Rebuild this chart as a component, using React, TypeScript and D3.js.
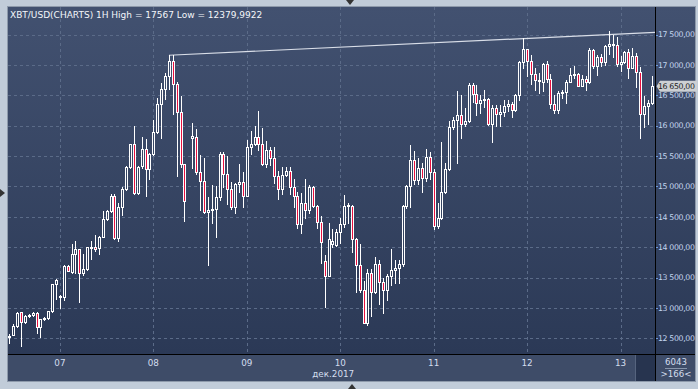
import React, { useEffect, useRef } from "react";
import * as d3 from "d3";

const WIDTH = 698;
const HEIGHT = 389;

const title = "XBT/USD(CHARTS) 1H High = 17567 Low = 12379,9922";

// hourly candles, 06.12 11:00 .. 13.12 08:00 (index 46 is a missing hour)
const opens: (number | null)[] = [
  12530, 12555, 12700, 12925, 12775, 12865, 12875, 12915, 12680, 12810,
  12835, 12945, 13390, 13180, 13185, 13696, 13597, 13888, 13965, 13580,
  13640, 13998, 13998, 13980, 14173, 14459, 14601, 14848, 14146, 14656,
  14953, 15320, 15693, 14887, 15330, 15617, 15282, 15534, 15891, 16352,
  16599, 16818, 17071, 16681, 16220, 15364, null, 15805, 15809, 15243,
  15095, 14585, 14620, 14625, 14821, 15534, 15205, 14953, 14656, 15040,
  15068, 14848, 15644, 15693, 15809, 15693, 15364, 15600, 15463, 15172,
  14953, 15189, 15260, 14996, 14843, 14376, 14733, 14612, 14985, 14678,
  14409, 13773, 13531, 14046, 14036, 14255, 14376, 14678, 14680, 14129,
  13707, 13295, 12757, 13569, 13268, 13718, 13432, 13295, 13531, 13624,
  13663, 13718, 14684, 15013, 15435, 15106, 15298, 15133, 15479, 15232,
  14354, 14475, 14903, 15282, 15984, 16094, 16176, 16022, 16077, 16670,
  16522, 16379, 16423, 16440, 16028, 16286, 16187, 16220, 16324, 16357,
  16259, 16505, 17054, 17257, 17071, 16846, 16752, 16725, 17010, 16763,
  16352, 16259, 16533, 16560, 16725, 16835, 16846, 16659, 16769, 16714,
  17246, 16988, 17137, 17043, 17318, 17330, 17330, 17010, 17054, 17219,
  16955, 17148, 16879, 16187, 16324, 16379,
];
const highs: (number | null)[] = [
  12575, 12735, 12935, 12940, 12880, 12895, 12935, 12925, 12815, 12855,
  12950, 13400, 13470, 13210, 13700, 13700, 14050, 14105, 13970, 13888,
  14010, 14105, 14200, 14180, 14600, 14620, 14870, 14876, 14720, 14985,
  15340, 15700, 15995, 15330, 15810, 15775, 15545, 16094, 16451, 16698,
  16862, 17160, 17160, 16725, 16489, 15370, null, 16040, 15946, 15518,
  15474, 14832, 15024, 15007, 15573, 15567, 15501, 15079, 15051, 15370,
  15238, 15765, 15913, 15995, 16242, 15957, 15754, 15644, 15644, 15260,
  15326, 15326, 15326, 15122, 14914, 14898, 15117, 15024, 15000, 14695,
  14519, 13871, 14404, 14300, 14300, 14475, 14859, 14722, 14690, 14146,
  14047, 13449, 13635, 13635, 13844, 13789, 13487, 13558, 13964, 13789,
  13789, 14695, 15024, 15682, 15589, 15463, 15380, 15611, 15573, 15282,
  14722, 15737, 15380, 16083, 16138, 16571, 16505, 16286, 16697, 16708,
  16670, 16505, 16588, 16451, 16341, 16341, 16341, 16423, 16423, 16385,
  16516, 17065, 17438, 17263, 17164, 16944, 16862, 17038, 17065, 16846,
  16505, 16571, 16582, 16752, 16956, 16988, 16862, 16835, 16824, 17274,
  17263, 17164, 17175, 17329, 17567, 17493, 17466, 17153, 17230, 17263,
  17274, 17192, 16972, 16489, 16418, 16818,
];
const lows: (number | null)[] = [
  12430, 12550, 12690, 12380, 12750, 12850, 12865, 12580, 12515, 12800,
  12825, 12930, 13150, 13000, 13130, 13600, 13580, 13580, 13100, 13540,
  13630, 13800, 13940, 13888, 14160, 14440, 14580, 14140, 14107, 14530,
  14940, 15300, 14880, 14880, 15300, 14848, 15122, 15520, 15880, 15792,
  16434, 16600, 16193, 15172, 15325, 14437, null, 15300, 15205, 14612,
  14557, 13707, 14404, 14173, 14777, 14996, 14711, 14623, 14557, 14914,
  14667, 14840, 15534, 15680, 15600, 15350, 15325, 15353, 15051, 14788,
  14876, 15172, 14876, 14656, 14310, 14228, 14475, 14557, 14667, 14310,
  13734, 13010, 13525, 14000, 14020, 14075, 14338, 14393, 13926, 13268,
  13268, 12746, 12719, 12872, 13251, 13065, 12922, 13131, 13377, 13405,
  13405, 13690, 14640, 14656, 15040, 15040, 14914, 15095, 15122, 14294,
  14310, 14458, 14887, 15270, 15950, 15391, 15803, 16000, 16066, 16396,
  16176, 16204, 16313, 16011, 15737, 16000, 16000, 16165, 16242, 16149,
  16242, 16423, 16944, 16824, 16681, 16588, 16533, 16577, 16714, 16286,
  16204, 16215, 16462, 16379, 16714, 16791, 16654, 16654, 16588, 16697,
  16955, 16835, 16988, 17000, 17175, 17137, 16988, 16901, 17026, 16791,
  16944, 16643, 15792, 15984, 16022, 16357,
];
const closes: (number | null)[] = [
  12545, 12700, 12920, 12775, 12865, 12880, 12920, 12680, 12810, 12835,
  12945, 13390, 13460, 13200, 13696, 13613, 13888, 13965, 13580, 13640,
  13998, 14005, 13965, 14173, 14459, 14601, 14848, 14146, 14656, 14953,
  15326, 15693, 14887, 15326, 15617, 15282, 15534, 15891, 16352, 16599,
  16818, 17071, 16681, 16220, 15364, 14766, null, 15830, 15243, 15095,
  14585, 14620, 14625, 14821, 15534, 15205, 14953, 14656, 15040, 15068,
  14848, 15644, 15693, 15809, 15693, 15364, 15600, 15463, 15172, 14953,
  15189, 15260, 14996, 14843, 14376, 14733, 14612, 14985, 14678, 14409,
  14080, 13531, 14129, 14100, 14255, 14376, 14678, 14690, 14129, 13707,
  13295, 12757, 13569, 13268, 13718, 13432, 13295, 13531, 13624, 13663,
  13718, 14684, 15013, 15435, 15106, 15298, 15133, 15479, 15232, 14354,
  14475, 14903, 15282, 15984, 16094, 16176, 16022, 16077, 16670, 16522,
  16379, 16423, 16440, 16028, 16286, 16187, 16231, 16324, 16357, 16259,
  16505, 17054, 17257, 17071, 16846, 16752, 16760, 17010, 16763, 16352,
  16259, 16533, 16560, 16725, 16835, 16846, 16659, 16769, 16714, 17246,
  16988, 17137, 17043, 17318, 17340, 17345, 17010, 17054, 17219, 16955,
  17148, 16879, 16187, 16324, 16379, 16650,
];

const priceTicks = [12500, 13000, 13500, 14000, 14500, 15000, 15500, 16000, 16500, 17000, 17500];
const dayTicks = [13, 37, 61, 85, 109, 133, 157]; // candle index at midnight
const dayLabels = ["07", "08", "09", "10", "11", "12", "13"];
const monthLabel = "дек.2017";
const lastPrice = 16650;
const barsInfo = ["6043", ">166<"];
// user trend line: anchor at the 08.12 high, second point on the 13.12 top
const trendFrom = [41, 17160];
const trendTo = [154, 17500];

const ruLocale = d3.formatLocale({
  decimal: ",",
  thousands: " ",
  grouping: [3],
  currency: ["", ""],
});
const fmtPrice = ruLocale.format(",.2f");

export default function App() {
  const svgRef = useRef<SVGSVGElement>(null);

  useEffect(() => {
    const svg = d3.select(svgRef.current);
    svg.selectChildren().remove();

    const plot = { left: 8, top: 7, right: 655, bottom: 354 };
    const axisRight = 695;
    const bandBottom = 381;
    const font = "DejaVu Sans, Verdana, sans-serif";

    const x = d3.scaleLinear().domain([-0.334, 165.85]).range([plot.left, plot.right]);
    const y = d3.scaleLinear().domain([12241, 17954]).range([plot.bottom, plot.top]);

    const defs = svg.append("defs");
    const grad = defs
      .append("linearGradient")
      .attr("id", "plotBg")
      .attr("gradientUnits", "userSpaceOnUse")
      .attr("x1", 0)
      .attr("y1", plot.top)
      .attr("x2", 0)
      .attr("y2", plot.bottom);
    grad.append("stop").attr("offset", 0).attr("stop-color", "#425170");
    grad.append("stop").attr("offset", 1).attr("stop-color", "#2b3956");

    defs
      .append("clipPath")
      .attr("id", "plotClip")
      .append("rect")
      .attr("x", plot.left)
      .attr("y", plot.top)
      .attr("width", plot.right - plot.left)
      .attr("height", plot.bottom - plot.top);

    // frame
    svg.append("rect").attr("width", WIDTH).attr("height", HEIGHT).attr("fill", "#c1ccd9");
    svg
      .append("rect")
      .attr("x", plot.left - 0.5)
      .attr("y", plot.top - 0.5)
      .attr("width", axisRight - plot.left + 1)
      .attr("height", bandBottom - plot.top + 1)
      .attr("fill", "none")
      .attr("stroke", "#8e9aab");

    svg
      .append("rect")
      .attr("x", plot.left)
      .attr("y", plot.top)
      .attr("width", axisRight - plot.left)
      .attr("height", plot.bottom - plot.top)
      .attr("fill", "url(#plotBg)");
    svg
      .append("rect")
      .attr("x", plot.left)
      .attr("y", plot.bottom)
      .attr("width", axisRight - plot.left)
      .attr("height", bandBottom - plot.bottom)
      .attr("fill", "#3e4c68");

    // grid
    const grid = svg.append("g").attr("stroke", "#5b6b88").attr("stroke-dasharray", "3,3");
    grid
      .selectAll("line.h")
      .data(priceTicks)
      .join("line")
      .attr("class", "h")
      .attr("x1", plot.left)
      .attr("x2", plot.right)
      .attr("y1", (d) => Math.round(y(d)) + 0.5)
      .attr("y2", (d) => Math.round(y(d)) + 0.5);
    grid
      .selectAll("line.v")
      .data(dayTicks)
      .join("line")
      .attr("class", "v")
      .attr("x1", (d) => Math.round(x(d)) + 0.5)
      .attr("x2", (d) => Math.round(x(d)) + 0.5)
      .attr("y1", plot.top)
      .attr("y2", plot.bottom);

    const chart = svg.append("g").attr("clip-path", "url(#plotClip)");

    // trend line, extended to the right edge
    const slope = (trendTo[1] - trendFrom[1]) / (trendTo[0] - trendFrom[0]);
    const endIdx = x.invert(plot.right);
    chart
      .append("line")
      .attr("x1", x(trendFrom[0]))
      .attr("y1", y(trendFrom[1]))
      .attr("x2", plot.right)
      .attr("y2", y(trendFrom[1] + slope * (endIdx - trendFrom[0])))
      .attr("stroke", "#d9dee8")
      .attr("stroke-width", 1.2);

    const idx = d3.range(opens.length).filter((i) => opens[i] != null);
    const candles = chart.append("g");
    const cx = (i: number) => Math.round(x(i));

    candles
      .selectAll("line")
      .data(idx)
      .join("line")
      .attr("x1", (i) => cx(i) + 0.5)
      .attr("x2", (i) => cx(i) + 0.5)
      .attr("y1", (i) => Math.round(y(highs[i] as number)))
      .attr("y2", (i) => Math.round(y(lows[i] as number)) + 1)
      .attr("stroke", "#ffffff")
      .attr("stroke-width", 1);

    candles
      .selectAll("rect")
      .data(idx)
      .join("rect")
      .attr("x", (i) => cx(i) - 0.5)
      .attr("y", (i) => Math.round(y(Math.max(opens[i] as number, closes[i] as number))) + 0.5)
      .attr("width", 2)
      .attr("height", (i) =>
        Math.max(
          1,
          Math.round(y(Math.min(opens[i] as number, closes[i] as number))) -
            Math.round(y(Math.max(opens[i] as number, closes[i] as number)))
        )
      )
      .attr("fill", (i) => ((closes[i] as number) < (opens[i] as number) ? "#e8103f" : "url(#plotBg)"))
      .attr("stroke", "#ffffff")
      .attr("stroke-width", 1);

    // separators
    svg
      .append("line")
      .attr("x1", plot.right + 0.5)
      .attr("x2", plot.right + 0.5)
      .attr("y1", plot.top)
      .attr("y2", bandBottom)
      .attr("stroke", "#000");
    svg
      .append("line")
      .attr("x1", plot.left)
      .attr("x2", axisRight)
      .attr("y1", plot.bottom + 0.5)
      .attr("y2", plot.bottom + 0.5)
      .attr("stroke", "#000");

    // price axis
    const axis = svg.append("g");
    axis
      .selectAll("rect.tick")
      .data(priceTicks)
      .join("rect")
      .attr("class", "tick")
      .attr("x", plot.right + 1)
      .attr("y", (d) => Math.round(y(d)))
      .attr("width", 2)
      .attr("height", 1)
      .attr("fill", "#6f9be0");
    axis
      .selectAll("text")
      .data(priceTicks)
      .join("text")
      .attr("x", plot.right + 3)
      .attr("y", (d) => y(d))
      .attr("dy", "0.36em")
      .attr("font-family", font)
      .attr("font-size", 7.8)
      .attr("letter-spacing", -0.35)
      .attr("fill", "#c3d5ef")
      .text((d) => fmtPrice(d));

    // last price tag
    const ty = y(lastPrice);
    axis
      .append("path")
      .attr(
        "d",
        `M${plot.right + 1.5},${ty} L${plot.right + 5},${ty - 5.5} L${axisRight + 2},${ty - 5.5} L${axisRight + 2},${ty + 5.5} L${plot.right + 5},${ty + 5.5} Z`
      )
      .attr("fill", "#cdd0d4");
    axis
      .append("text")
      .attr("x", plot.right + 3)
      .attr("y", ty)
      .attr("dy", "0.36em")
      .attr("font-family", font)
      .attr("font-size", 7.8)
      .attr("letter-spacing", -0.35)
      .attr("fill", "#222")
      .text(fmtPrice(lastPrice));

    // time axis
    const timeAxis = svg.append("g").attr("font-family", font).attr("font-size", 8.8).attr("fill", "#d3ddee");
    timeAxis
      .selectAll("text")
      .data(dayTicks)
      .join("text")
      .attr("x", (d) => x(d))
      .attr("y", 363)
      .attr("dy", "0.36em")
      .attr("text-anchor", "middle")
      .text((d, k) => dayLabels[k]);
    timeAxis
      .append("text")
      .attr("x", x(dayTicks[3]) - 7)
      .attr("y", 373.5)
      .attr("dy", "0.36em")
      .attr("text-anchor", "middle")
      .text(monthLabel);

    svg
      .append("rect")
      .attr("x", 636)
      .attr("y", plot.bottom + 1)
      .attr("width", plot.right - 636)
      .attr("height", bandBottom - plot.bottom - 1)
      .attr("fill", "#27344f");
    svg
      .append("line")
      .attr("x1", 635.5)
      .attr("x2", 635.5)
      .attr("y1", plot.bottom + 1)
      .attr("y2", bandBottom)
      .attr("stroke", "#56647e");

    const infoX = (plot.right + axisRight) / 2 + 1;
    svg
      .append("text")
      .attr("x", infoX)
      .attr("y", 362)
      .attr("dy", "0.36em")
      .attr("text-anchor", "middle")
      .attr("font-family", font)
      .attr("font-size", 8.6)
      .attr("fill", "#d3ddee")
      .text(barsInfo[0]);
    svg
      .append("line")
      .attr("x1", infoX - 11)
      .attr("x2", infoX + 11)
      .attr("y1", 368.5)
      .attr("y2", 368.5)
      .attr("stroke", "#8795ab");
    svg
      .append("text")
      .attr("x", infoX)
      .attr("y", 374)
      .attr("dy", "0.36em")
      .attr("text-anchor", "middle")
      .attr("font-family", font)
      .attr("font-size", 8.6)
      .attr("fill", "#d3ddee")
      .text(barsInfo[1]);

    // title
    svg
      .append("text")
      .attr("x", 10)
      .attr("y", 17.5)
      .attr("font-family", font)
      .attr("font-size", 9)
      .attr("fill", "#f4f6fa")
      .text(title);

    // small splitter arrows
    svg.append("path").attr("d", "M346,0 L354,0 L350,5 Z").attr("fill", "#333");
    svg.append("path").attr("d", "M0,189 L0,197 L5,193 Z").attr("fill", "#333");
    svg.append("path").attr("d", "M348,389 L356,389 L352,384 Z").attr("fill", "#333");
  }, []);

  return (
    <svg
      ref={svgRef}
      width={WIDTH}
      height={HEIGHT}
      style={{ position: "absolute", left: 0, top: 0, display: "block" }}
    />
  );
}
